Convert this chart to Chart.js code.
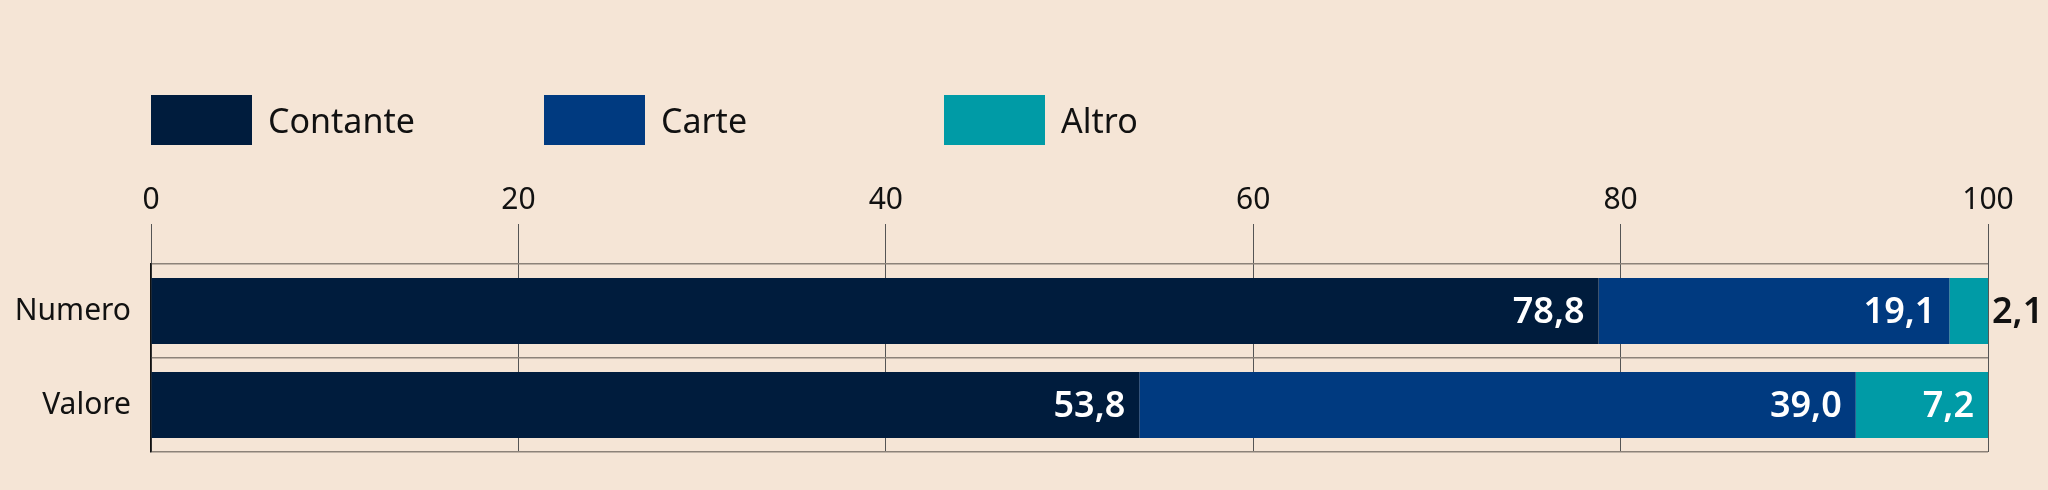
<!DOCTYPE html>
<html><head><meta charset="utf-8">
<script src="https://cdn.jsdelivr.net/npm/chart.js@4"></script>
<style>
html,body{margin:0;padding:0;background:#f5e5d6;}
#wrap{position:relative;width:2048px;height:490px;}
.lg{position:absolute;top:95px;height:50px;display:flex;align-items:center;font-family:"Noto Sans";font-size:34px;color:#111;}
.lg span{display:inline-block;width:101px;height:50px;margin-right:16px;}
</style></head><body>
<div id="wrap">
<div class="lg" style="left:151px"><span style="background:#001c3d"></span>Contante</div>
<div class="lg" style="left:544px"><span style="background:#003a80"></span>Carte</div>
<div class="lg" style="left:944px"><span style="background:#009ba6"></span>Altro</div>
<canvas id="c" width="2048" height="490"></canvas>
</div>
<script>
const categories=["Numero","Valore"];
const contante=[78.8,53.8];
const carte=[19.1,39.0];
const altro=[2.1,7.2];
const tickValues=[0,20,40,60,80,100];
const fmt=v=>v.toFixed(1).replace('.',',');
const labelsPlugin={id:'lbl',afterDatasetsDraw(ch){
  const ctx=ch.ctx;ctx.save();
  ctx.font='600 36px "Noto Sans"';ctx.textBaseline='middle';
  ch.data.datasets.forEach((ds,i)=>{
    ch.getDatasetMeta(i).data.forEach((b,j)=>{
      const v=ds.data[j];
      if(v<4){ctx.fillStyle='#111';ctx.textAlign='left';ctx.fillText(fmt(v),b.x+4,b.y+2);}
      else{ctx.fillStyle='#fff';ctx.textAlign='right';ctx.fillText(fmt(v),b.x-14,b.y+2);}
    });
  });
  ctx.restore();
}};
new Chart(document.getElementById('c'),{
  type:'bar',
  data:{labels:categories,datasets:[
    {label:'Contante',data:contante,backgroundColor:'#001c3d'},
    {label:'Carte',data:carte,backgroundColor:'#003a80'},
    {label:'Altro',data:altro,backgroundColor:'#009ba6'}]},
  options:{indexAxis:'y',responsive:false,animation:false,
    datasets:{bar:{categoryPercentage:1,barPercentage:0.7}},
    layout:{padding:{top:176,bottom:38,right:60,left:0}},
    plugins:{legend:{display:false},tooltip:{enabled:false}},
    scales:{
      x:{position:'top',stacked:true,min:0,max:100,
        afterBuildTicks:s=>{s.ticks=tickValues.map(v=>({value:v}));},
        ticks:{font:{family:'Noto Sans',size:30},color:'#111',padding:6},
        grid:{color:'#555',lineWidth:1,tickLength:40,drawTicks:true,tickColor:'#555'},
        border:{display:false}},
      y:{stacked:true,afterFit:s=>{s.width=151;},
        ticks:{font:{family:'Noto Sans',size:30},color:'#111',padding:20},
        grid:{color:'#8c8279',lineWidth:1.5,drawTicks:false,offset:true},
        border:{color:'#111',width:1.5}}
    }},
  plugins:[labelsPlugin]
});
</script></body></html>
